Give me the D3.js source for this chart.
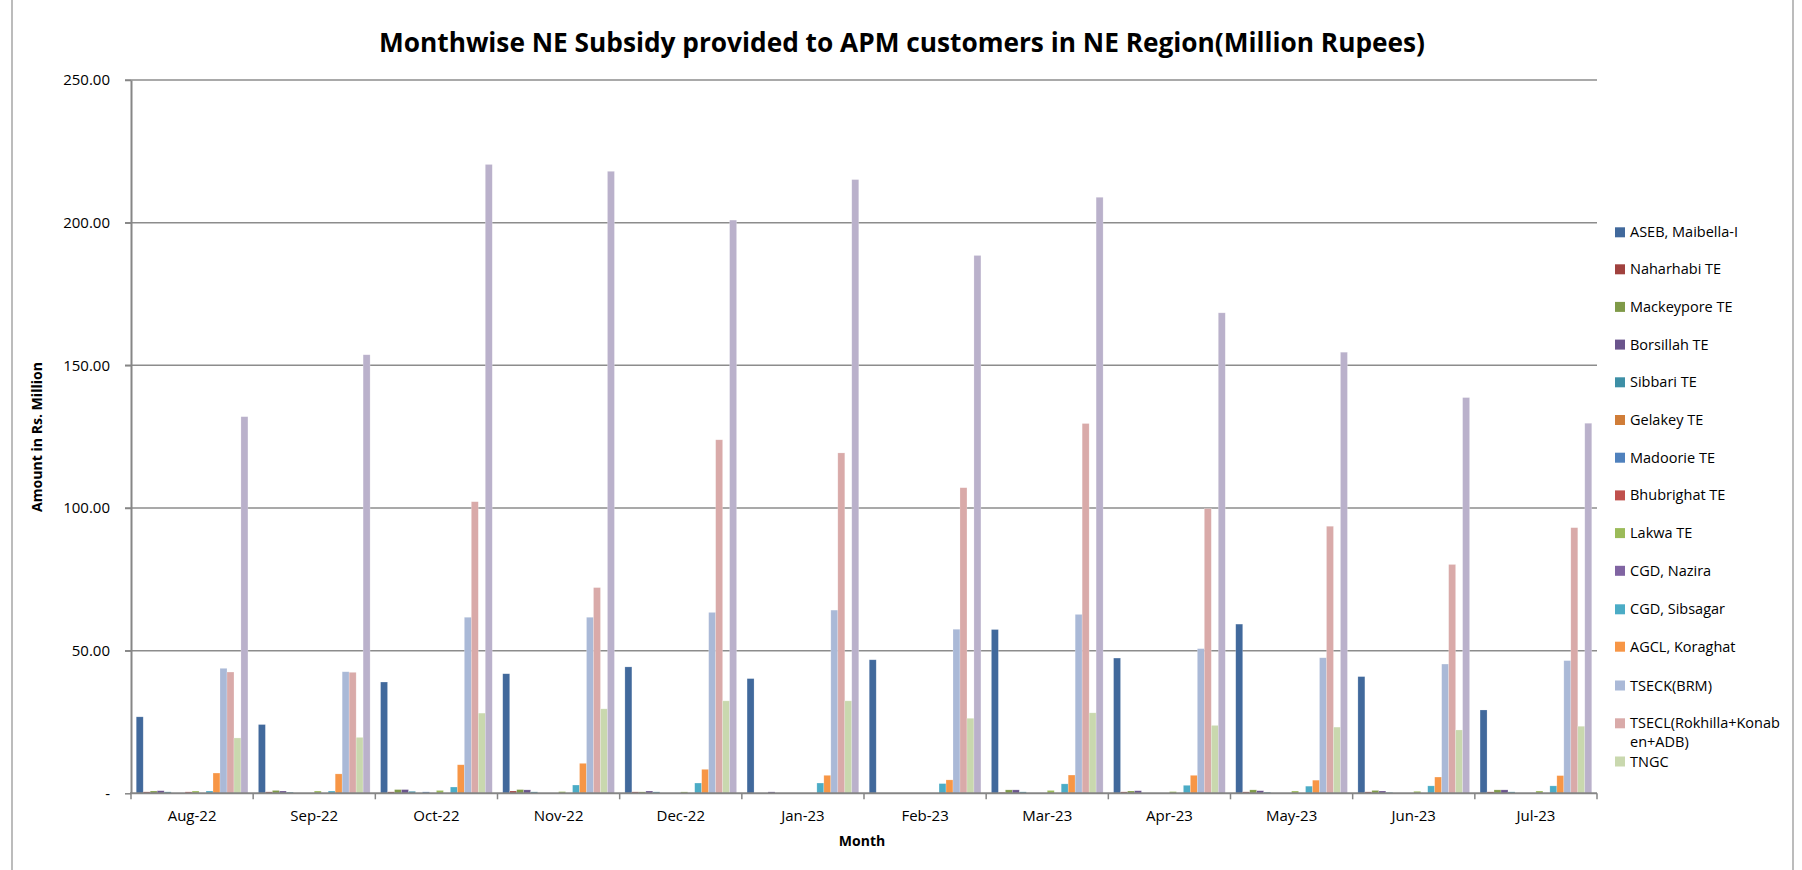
<!DOCTYPE html>
<html>
<head>
<meta charset="utf-8">
<script src="https://cdn.jsdelivr.net/npm/d3@7/dist/d3.min.js"></script>
<style>
  body{margin:0;background:#fff;}
  svg{display:block;font-family:"Open Sans","Liberation Sans",sans-serif;}
</style>
</head>
<body>
<svg id="chart" width="1802" height="870"></svg>
<script>
// values (million rupees)
const months = ['Aug-22','Sep-22','Oct-22','Nov-22','Dec-22','Jan-23','Feb-23','Mar-23','Apr-23','May-23','Jun-23','Jul-23'];
const seriesNames = ['ASEB, Maibella-I','Naharhabi TE','Mackeypore TE','Borsillah TE','Sibbari TE','Gelakey TE','Madoorie TE','Bhubrighat TE','Lakwa TE','CGD, Nazira','CGD, Sibsagar','AGCL, Koraghat','TSECK(BRM)','TSECL(Rokhilla+Konaben+ADB)','TNGC','Series 16'];
const seriesColors = ['#41699c','#a0413e','#7f9a48','#6a548c','#3d8fa6','#d07d38','#4f81bd','#c0504d','#9bbb59','#8064a2','#4bacc6','#f79646','#aab9d7','#d9aaa9','#c9d8ae','#bab1cb'];

const aseb       = [26.8,24.1,39.0,41.9,44.3,40.2,46.8,57.4,47.4,59.3,40.9,29.2];
const naharhabi  = [0.5,0.5,0.5,0.8,0.5,0,0,0.3,0.5,0.5,0.5,0.5];
const mackeypore = [0.8,1.0,1.3,1.3,0.5,0,0,1.2,0.8,1.2,1.0,1.2];
const borsillah  = [0.9,0.8,1.3,1.2,0.8,0.5,0,1.2,0.9,0.9,0.8,1.2];
const sibbari    = [0.5,0.4,0.7,0.5,0.5,0,0,0.5,0,0.4,0.3,0.5];
const gelakey    = [0,0,0,0,0,0,0,0,0,0,0,0];
const madoorie   = [0,0,0.5,0,0,0,0,0,0,0,0,0];
const bhubrighat = [0.5,0,0,0,0,0,0,0,0,0,0,0];
const lakwa      = [0.8,0.8,1.0,0.6,0.5,0,0,1.0,0.6,0.8,0.7,0.8];
const cgdNazira  = [0,0,0,0,0,0,0,0,0,0,0,0];
const cgdSibsagar= [0.8,0.8,2.2,2.9,3.6,3.6,3.4,3.3,2.8,2.5,2.6,2.6];
const agcl       = [7.1,6.8,10.0,10.5,8.4,6.3,4.7,6.4,6.3,4.6,5.7,6.2];
const tseck      = [43.8,42.6,61.7,61.7,63.4,64.2,57.5,62.7,50.7,47.5,45.3,46.5];
const tsecl      = [42.5,42.4,102.2,72.1,123.9,119.3,107.1,129.6,99.8,93.6,80.2,93.1];
const tngc       = [19.4,19.6,28.1,29.6,32.4,32.4,26.3,28.2,23.8,23.2,22.2,23.5];
const series16   = [132.0,153.7,220.4,218.0,200.9,215.1,188.5,208.9,168.4,154.6,138.7,129.7];

const seriesValues = [aseb,naharhabi,mackeypore,borsillah,sibbari,gelakey,madoorie,bhubrighat,lakwa,cgdNazira,cgdSibsagar,agcl,tseck,tsecl,tngc,series16];
const yTicks = [0,50,100,150,200,250];

const svg = d3.select('#chart');
const plotLeft = 131, plotRight = 1597, plotTop = 80, plotBottom = 793.3;

// outer chart frame
svg.append('line').attr('x1',12).attr('x2',12).attr('y1',0).attr('y2',870).attr('stroke','#a6a6a6').attr('stroke-width',1.5);
svg.append('line').attr('x1',1793).attr('x2',1793).attr('y1',0).attr('y2',870).attr('stroke','#a6a6a6').attr('stroke-width',1.5);

const x0 = d3.scaleBand().domain(months).range([plotLeft,plotRight]).paddingInner(0).paddingOuter(0);
const x1 = d3.scaleBand().domain(d3.range(seriesNames.length)).range([0,x0.bandwidth()]).paddingInner(0).paddingOuter(0.75);
const y = d3.scaleLinear().domain([0,250]).range([plotBottom,plotTop]);

// gridlines
svg.append('g').selectAll('line').data(yTicks.slice(1)).enter().append('line')
  .attr('x1',plotLeft-6).attr('x2',plotRight).attr('y1',d=>y(d)).attr('y2',d=>y(d))
  .attr('stroke','#8c8c8c').attr('stroke-width',1.5);

// y axis
const yAxis = svg.append('g').attr('transform',`translate(${plotLeft},0)`)
  .call(d3.axisLeft(y).tickValues(yTicks).tickSize(6).tickSizeOuter(0).tickFormat(d=>d===0?'-':d3.format('.2f')(d)));
yAxis.select('.domain').attr('stroke','#868686').attr('stroke-width',2);
yAxis.selectAll('.tick line').attr('stroke','#868686').attr('stroke-width',1.5);
yAxis.selectAll('.tick text').attr('x',-21).attr('font-size',15).attr('fill','#000').style('font-family','"Open Sans",sans-serif');

// bars
const groups = svg.append('g').selectAll('g').data(months).enter().append('g')
  .attr('transform',d=>`translate(${x0(d)},0)`);
groups.selectAll('rect').data((m,mi)=>seriesValues.map((vals,si)=>({si,v:vals[mi]}))).enter().append('rect')
  .attr('x',d=>x1(d.si)).attr('width',x1.bandwidth())
  .attr('y',d=>y(d.v)).attr('height',d=>y(0)-y(d.v))
  .attr('fill',d=>seriesColors[d.si])
  .attr('stroke','rgba(255,255,255,0.35)').attr('stroke-width',0.6);

// x axis
svg.append('line').attr('x1',plotLeft-1).attr('x2',plotRight).attr('y1',plotBottom).attr('y2',plotBottom).attr('stroke','#868686').attr('stroke-width',2);
const bounds = months.map(m=>x0(m)).concat([plotRight]);
svg.append('g').selectAll('line').data(bounds).enter().append('line')
  .attr('x1',d=>d).attr('x2',d=>d).attr('y1',plotBottom).attr('y2',plotBottom+6)
  .attr('stroke','#868686').attr('stroke-width',1.5);
svg.append('g').selectAll('text').data(months).enter().append('text')
  .attr('x',d=>x0(d)+x0.bandwidth()/2).attr('y',821)
  .attr('text-anchor','middle').attr('font-size',15).attr('fill','#000')
  .text(d=>d);

// titles
svg.append('text').attr('x',902).attr('y',52).attr('text-anchor','middle')
  .attr('font-size',26).attr('font-weight','bold').attr('fill','#000')
  .attr('textLength',1046).attr('lengthAdjust','spacingAndGlyphs')
  .text('Monthwise NE Subsidy provided to APM customers in NE Region(Million Rupees)');
svg.append('text').attr('x',862).attr('y',846).attr('text-anchor','middle')
  .attr('font-size',14).attr('font-weight','bold').attr('fill','#000')
  .text('Month');
svg.append('text').attr('transform','translate(42,437) rotate(-90)').attr('text-anchor','middle')
  .attr('font-size',13.5).attr('font-weight','bold').attr('fill','#000')
  .attr('textLength',150).attr('lengthAdjust','spacingAndGlyphs')
  .text('Amount in Rs. Million');

// legend (the 16th entry is clipped in the original)
const legendY = [232.3,269.3,306.9,344.6,382.3,420,457.7,495.4,533.1,570.8,609.3,646.7,685.5,723.3,761.5];
const legendLines = seriesNames.slice(0,15).map(n=>n==='TSECL(Rokhilla+Konaben+ADB)'?['TSECL(Rokhilla+Konab','en+ADB)']:[n]);
const lg = svg.append('g').selectAll('g').data(legendLines).enter().append('g')
  .attr('transform',(d,i)=>`translate(1615,${legendY[i]})`);
lg.append('rect').attr('x',0).attr('y',-5).attr('width',10).attr('height',10).attr('fill',(d,i)=>seriesColors[i]);
lg.append('text').attr('x',15).attr('y',5).attr('font-size',14.5).attr('fill','#000')
  .selectAll('tspan').data(d=>d).enter().append('tspan')
  .attr('x',15).attr('dy',(d,i)=>i===0?0:19).text(d=>d);
</script>
</body>
</html>
